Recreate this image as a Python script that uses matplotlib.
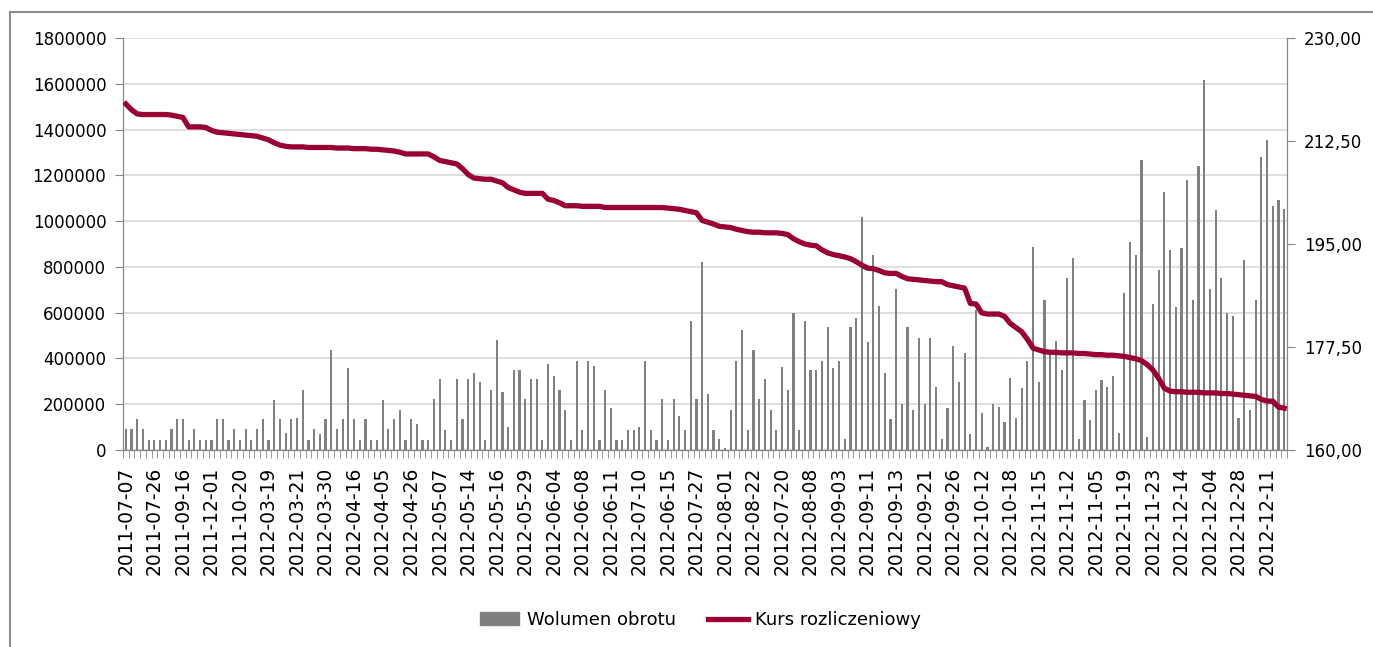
import matplotlib.pyplot as plt
import matplotlib.patches as mpatches
from matplotlib.lines import Line2D

# tick labels (every 5th session)
date_labels = ['2011-07-07', '2011-07-26', '2011-09-16', '2011-12-01', '2011-10-20',
               '2012-03-19', '2012-03-21', '2012-03-30', '2012-04-16', '2012-04-05',
               '2012-04-26', '2012-05-07', '2012-05-14', '2012-05-16', '2012-05-29',
               '2012-06-04', '2012-06-08', '2012-06-11', '2012-07-10', '2012-06-15',
               '2012-07-27', '2012-08-01', '2012-08-22', '2012-07-20', '2012-08-08',
               '2012-09-03', '2012-09-11', '2012-09-13', '2012-09-21', '2012-09-26',
               '2012-10-12', '2012-10-18', '2012-11-15', '2012-11-12', '2012-11-05',
               '2012-11-19', '2012-11-23', '2012-12-14', '2012-12-04', '2012-12-28',
               '2012-12-11']

# Wolumen obrotu
volume = [
    90000, 90000, 135000, 90000, 45000, 45000, 45000, 45000, 90000, 135000,
    135000, 45000, 90000, 45000, 45000, 45000, 135000, 135000, 45000, 90000,
    45000, 90000, 45000, 90000, 135000, 45000, 220000, 135000, 75000, 135000,
    140000, 262000, 45000, 90000, 70000, 135000, 437000, 90000, 135000, 360000,
    135000, 45000, 135000, 45000, 45000, 220000, 90000, 135000, 175000, 45000,
    135000, 112000, 45000, 45000, 221000, 309000, 87000, 45000, 309000, 134000,
    309000, 335000, 298000, 45000, 262000, 480000, 253000, 102000, 349000, 349000,
    221000, 309000, 309000, 45000, 375000, 323000, 262000, 175000, 45000, 390000,
    87000, 390000, 367000, 45000, 262000, 185000, 45000, 45000, 87000, 87000,
    102000, 390000, 87000, 45000, 221000, 45000, 221000, 148000, 87000, 565000,
    221000, 822000, 245000, 87000, 47000, 7000, 175000, 390000, 524000, 87000,
    437000, 221000, 309000, 175000, 87000, 364000, 262000, 597000, 87000, 565000,
    349000, 349000, 390000, 536000, 360000, 390000, 47000, 536000, 576000, 1016000,
    473000, 854000, 629000, 335000, 134000, 702000, 201000, 536000, 175000, 489000,
    201000, 489000, 277000, 47000, 183000, 454000, 298000, 422000, 70000, 611000,
    163000, 12000, 200000, 189000, 122000, 313000, 138000, 272000, 390000, 888000,
    297000, 655000, 416000, 477000, 349000, 750000, 838000, 47000, 218000, 131000,
    262000, 306000, 277000, 323000, 76000, 688000, 910000, 854000, 1266000, 58000,
    637000, 786000, 1127000, 873000, 623000, 884000, 1179000, 655000, 1240000, 1616000,
    702000, 1048000, 750000, 597000, 585000, 138000, 830000, 175000, 655000, 1278000,
    1354000, 1067000, 1092000, 1055000]

# Kurs rozliczeniowy
price = [
    218.8, 217.8, 217.1, 217.0, 217.0, 217.0, 217.0, 217.0, 216.9, 216.7,
    216.5, 214.9, 214.9, 214.9, 214.8, 214.3, 214.0, 213.9, 213.8, 213.7,
    213.6, 213.5, 213.4, 213.3, 213.0, 212.7, 212.2, 211.8, 211.6, 211.5,
    211.5, 211.5, 211.4, 211.4, 211.4, 211.4, 211.4, 211.3, 211.3, 211.3,
    211.2, 211.2, 211.2, 211.1, 211.1, 211.0, 210.9, 210.8, 210.6, 210.3,
    210.3, 210.3, 210.3, 210.3, 209.8, 209.2, 209.0, 208.8, 208.6, 207.8,
    206.8, 206.2, 206.1, 206.0, 206.0, 205.7, 205.4, 204.6, 204.2, 203.8,
    203.6, 203.6, 203.6, 203.6, 202.6, 202.4, 202.0, 201.5, 201.5, 201.5,
    201.4, 201.4, 201.4, 201.4, 201.2, 201.2, 201.2, 201.2, 201.2, 201.2,
    201.2, 201.2, 201.2, 201.2, 201.2, 201.1, 201.0, 200.9, 200.7, 200.5,
    200.3, 199.0, 198.7, 198.4, 198.0, 197.9, 197.8, 197.5, 197.3, 197.1,
    197.0, 197.0, 196.9, 196.9, 196.9, 196.8, 196.6, 195.9, 195.4, 195.0,
    194.8, 194.7, 194.0, 193.5, 193.2, 193.0, 192.8, 192.5, 192.0, 191.4,
    190.9, 190.8, 190.5, 190.1, 190.0, 190.0, 189.5, 189.1, 189.0, 188.9,
    188.8, 188.7, 188.6, 188.6, 188.1, 187.9, 187.7, 187.5, 184.9, 184.8,
    183.3, 183.1, 183.1, 183.1, 182.7, 181.5, 180.8, 180.1, 178.8, 177.3,
    177.0, 176.7, 176.6, 176.6, 176.5, 176.5, 176.5, 176.4, 176.4, 176.3,
    176.2, 176.2, 176.1, 176.1, 176.0, 175.9, 175.7, 175.5, 175.2, 174.5,
    173.6, 172.2, 170.5, 170.0, 169.9, 169.9, 169.8, 169.8, 169.8, 169.7,
    169.7, 169.7, 169.6, 169.6, 169.5, 169.4, 169.3, 169.2, 169.1, 168.6,
    168.3, 168.3, 167.3, 167.1]

vol_ticks = list(range(0, 1800001, 200000))
price_ticks = [160.0, 177.5, 195.0, 212.5, 230.0]

plt.rcParams['font.family'] = 'DejaVu Sans'
axis_gray = '#868686'
bar_gray = '#7f7f7f'
red = '#990033'

fig = plt.figure(figsize=(13.73, 6.47), dpi=100)
ax = fig.add_axes([123/1373, 1-450/647, (1287-123)/1373, (450-38)/647])

x = list(range(len(volume)))
ax.bar(x, volume, width=0.38, color=bar_gray, zorder=2)
ax.set_xlim(-0.5, len(volume)-0.5)
ax.set_ylim(0, 1800000)
ax.set_yticks(vol_ticks)
ax.set_yticklabels([str(v) for v in vol_ticks], fontsize=12)
ax.yaxis.grid(True, color='#d9d9d9', linewidth=1.2, zorder=0)
ax.set_axisbelow(True)

ax.set_xticks(list(range(0, len(volume), 5)))
ax.set_xticklabels(date_labels, rotation=90, fontsize=13.5)
ax.set_xticks([i - 0.5 for i in range(len(volume)+1)], minor=True)
ax.tick_params(axis='x', which='major', length=0, pad=12)
ax.tick_params(axis='x', which='minor', length=6, color=axis_gray, direction='out')
ax.tick_params(axis='y', length=6, color=axis_gray, pad=6)

for s in ['top']:
    ax.spines[s].set_visible(False)
for s in ['left', 'bottom', 'right']:
    ax.spines[s].set_color(axis_gray)

ax2 = ax.twinx()
ax2.plot(x, price, color=red, linewidth=3.8, solid_joinstyle='round', zorder=3)
ax2.set_ylim(160, 230)
ax2.set_yticks(price_ticks)
ax2.set_yticklabels([('%.2f' % v).replace('.', ',') for v in price_ticks], fontsize=12)
ax2.tick_params(axis='y', length=6, color=axis_gray, pad=6)
ax2.spines['top'].set_visible(False)
for s in ['left', 'bottom', 'right']:
    ax2.spines[s].set_color(axis_gray)

handles = [mpatches.Patch(color=bar_gray, label='Wolumen obrotu'),
           Line2D([0], [0], color=red, linewidth=3.8, label='Kurs rozliczeniowy')]
fig.legend(handles=handles, loc='center', bbox_to_anchor=(0.51, 0.042), ncol=2,
           frameon=False, fontsize=13, handlelength=2.2, columnspacing=1.8,
           handletextpad=0.4)

# outer chart border
fig.add_artist(Line2D([10/1373, 10/1373], [0, 1-12/647], color='#8c8c8c', linewidth=1.5))
fig.add_artist(Line2D([10/1373, 1], [1-12/647, 1-12/647], color='#8c8c8c', linewidth=1.5))

fig.savefig('out.png', dpi=100)
